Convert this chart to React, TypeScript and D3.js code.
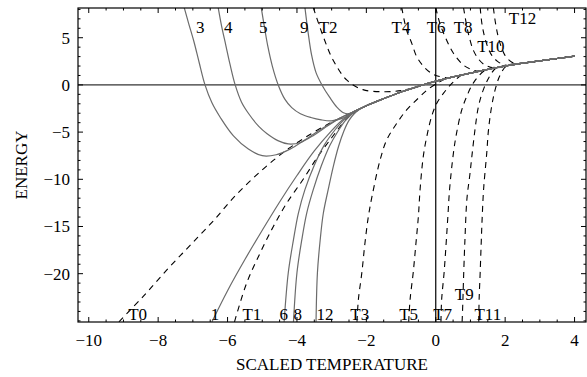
import React from "react";
import * as d3 from "d3";

type Pt = [number, number];

// common branch that all curves run into at high temperature
const envelope: Pt[] = [
  [-2.4, -2.9], [-2.2, -2.55], [-2, -2.2], [-1.5, -1.45], [-1, -0.75], [-0.5, -0.15], [0, 0.4],
  [0.5, 0.85], [1, 1.25], [1.5, 1.65], [2, 2.0], [2.5, 2.3], [3, 2.55], [3.5, 2.8], [4, 3.05],
];

// solid (grey) curves
const c1: Pt[] = [[-6.45, -25.1], [-6.0, -21.8], [-5.5, -18.5], [-5.0, -15.4], [-4.5, -12.4], [-4.0, -9.6], [-3.5, -7.0], [-3.0, -4.85], [-2.7, -3.75], [-2.45, -3.05], [-2.2, -2.55]];
const c3: Pt[] = [[-7.25, 8.2], [-7.12, 6.5], [-6.97, 4.6], [-6.82, 2.4], [-6.65, 0], [-6.45, -1.9], [-6.2, -3.5], [-5.83, -5.4], [-5.4, -6.8], [-5.0, -7.5], [-4.6, -7.4], [-4.2, -6.8], [-3.8, -5.9], [-3.4, -4.9], [-3.0, -4.0], [-2.7, -3.4], [-2.4, -2.9]];
const c4: Pt[] = [[-6.27, 8.2], [-6.17, 6.2], [-6.05, 4.2], [-5.93, 2.2], [-5.78, 0], [-5.6, -1.8], [-5.4, -3.0], [-5.1, -4.4], [-4.87, -5.15], [-4.55, -5.9], [-4.25, -6.25], [-3.9, -6.1], [-3.5, -5.3], [-3.1, -4.3], [-2.75, -3.5], [-2.4, -2.9]];
const c5: Pt[] = [[-5.03, 8.2], [-4.94, 6.2], [-4.84, 4.1], [-4.71, 2.0], [-4.54, 0], [-4.35, -1.5], [-4.15, -2.4], [-3.9, -3.05], [-3.6, -3.45], [-3.3, -3.7], [-3.0, -3.8], [-2.7, -3.55], [-2.55, -3.3], [-2.4, -2.9]];
const c6: Pt[] = [[-4.37, -25.1], [-4.25, -19.9], [-4.1, -16.4], [-3.96, -13.6], [-3.77, -11.1], [-3.5, -8.5], [-3.2, -6.3], [-2.9, -4.75], [-2.65, -3.7], [-2.45, -3.1], [-2.2, -2.55]];
const c8: Pt[] = [[-4.1, -25.1], [-4.0, -19.9], [-3.86, -16.4], [-3.72, -13.6], [-3.53, -11.1], [-3.3, -8.6], [-3.05, -6.4], [-2.8, -4.8], [-2.6, -3.75], [-2.42, -3.1], [-2.2, -2.55]];
const c9: Pt[] = [[-3.77, 8.2], [-3.68, 5.6], [-3.58, 3.2], [-3.45, 1.3], [-3.28, 0], [-3.05, -1.35], [-2.85, -2.35], [-2.66, -2.95], [-2.5, -3.05], [-2.4, -2.9]];
const c12: Pt[] = [[-3.45, -25.1], [-3.41, -19.9], [-3.33, -16.4], [-3.24, -13.6], [-3.1, -11.1], [-2.95, -8.6], [-2.8, -6.5], [-2.65, -4.9], [-2.5, -3.75], [-2.35, -3.05], [-2.2, -2.6]];

// dashed (black) curves
const t0: Pt[] = [[-9.13, -25.1], [-8.43, -22.4], [-7.75, -19.6], [-7.08, -17.0], [-6.41, -14.4], [-5.74, -11.6], [-5.0, -9.0], [-4.3, -6.9], [-3.6, -5.2], [-3.0, -3.95], [-2.4, -2.9]];
const t1: Pt[] = [[-5.8, -25.1], [-5.45, -21.0], [-5.06, -17.8], [-4.68, -15.0], [-4.29, -12.5], [-3.82, -10.0], [-3.4, -7.6], [-3.0, -5.6], [-2.7, -4.15], [-2.45, -3.2], [-2.2, -2.6]];
const t2: Pt[] = [[-3.53, 8.2], [-3.24, 5.1], [-2.96, 2.65], [-2.56, 0.5], [-2.1, -0.5], [-1.5, -0.72], [-1.0, -0.6], [-0.6, -0.27]];
const t3: Pt[] = [[-2.27, -25.1], [-2.23, -22.75], [-2.13, -19.9], [-2.04, -16.75], [-1.94, -13.9], [-1.82, -11.5], [-1.6, -7.9], [-1.41, -5.8], [-1.12, -4.05], [-0.84, -2.65], [-0.5, -1.4], [-0.2, -0.4], [0.1, 0.3], [0.3, 0.67]];
const t4: Pt[] = [[-0.98, 8.2], [-0.84, 5.8], [-0.7, 4.5], [-0.55, 3.0], [-0.36, 2.0], [-0.15, 1.3], [0.05, 0.95], [0.4, 0.76]];
const t5: Pt[] = [[-0.78, -25.1], [-0.74, -22.75], [-0.65, -19.9], [-0.57, -16.75], [-0.5, -13.9], [-0.45, -11.0], [-0.36, -7.6], [-0.26, -5.5], [-0.12, -3.35], [0.03, -1.94], [0.22, -0.9], [0.45, 0.1], [0.75, 1.05]];
const t6: Pt[] = [[0.0, 8.2], [0.12, 6.5], [0.27, 5.1], [0.51, 3.35], [0.8, 2.1], [1.05, 1.6], [1.25, 1.45]];
const t7: Pt[] = [[0.15, -25.1], [0.17, -22.75], [0.24, -19.9], [0.3, -16.75], [0.35, -13.9], [0.4, -11.0], [0.51, -7.2], [0.6, -5.1], [0.75, -2.65], [0.89, -1.24], [1.1, 0.3], [1.45, 1.61]];
const t8: Pt[] = [[0.8, 8.2], [0.88, 6.5], [0.97, 5.0], [1.08, 3.7], [1.22, 2.8], [1.4, 2.15], [1.7, 1.79]];
const t9: Pt[] = [[0.76, -25.1], [0.78, -23.1], [0.8, -20.6], [0.84, -16.5], [0.9, -12.0], [0.98, -9.6], [1.04, -7.6], [1.13, -4.76], [1.23, -2.3], [1.37, -0.53], [1.55, 0.9], [1.75, 1.83]];
const t10: Pt[] = [[1.28, 8.2], [1.33, 6.5], [1.4, 5.2], [1.5, 4.0], [1.62, 3.1], [1.78, 2.5], [1.95, 2.15], [2.1, 2.06]];
const t11: Pt[] = [[1.24, -25.1], [1.25, -22.75], [1.28, -19.9], [1.31, -16.75], [1.34, -13.9], [1.38, -11.0], [1.47, -7.2], [1.52, -4.76], [1.61, -2.3], [1.71, -0.53], [1.85, 1.0], [2.05, 2.03]];
const t12: Pt[] = [[1.66, 8.2], [1.72, 6.6], [1.8, 5.1], [1.9, 3.9], [2.0, 3.1], [2.12, 2.6], [2.25, 2.3], [2.4, 2.24]];

const solidCurves = [c1, c3, c4, c5, c6, c8, c9, c12];
const dashedCurves = [t0, t1, t2, t3, t4, t5, t6, t7, t8, t9, t10, t11, t12];

// curve labels: text, x, y (data units, baseline)
const curveLabels: [string, number, number][] = [
  ["3", -6.79, 5.45], ["4", -5.98, 5.45], ["5", -4.97, 5.45], ["9", -3.79, 5.45],
  ["T2", -3.1, 5.45], ["T4", -1.0, 5.45], ["T6", 0.01, 5.45], ["T8", 0.79, 5.45],
  ["T10", 1.59, 3.49], ["T12", 2.5, 6.5],
  ["T0", -8.59, -24.87], ["1", -6.36, -24.87], ["T1", -5.3, -24.87], ["6", -4.38, -24.87],
  ["8", -3.98, -24.87], ["12", -3.19, -24.87], ["T3", -2.19, -24.87], ["T5", -0.78, -24.87],
  ["T7", 0.2, -24.87], ["T9", 0.82, -22.75], ["T11", 1.5, -24.87],
];

const xTicks = [-10, -8, -6, -4, -2, 0, 2, 4];
const yTicks = [-20, -15, -10, -5, 0, 5];

const W = 587;
const H = 377;
const L = 78, R = 586, T = 8, B = 322;

const fmt = (v: number) => (v < 0 ? "\u2212" + Math.abs(v) : String(v));

const withEnvelope = (pts: Pt[]): Pt[] => {
  const last = pts[pts.length - 1][0];
  return pts.concat(envelope.filter((p) => p[0] > last + 0.05));
};

const App = () => {
  const x = d3.scaleLinear().domain([-10.31, 4.33]).range([L, R]);
  const y = d3.scaleLinear().domain([-25.12, 8.15]).range([B, T]);
  const line = d3
    .line<Pt>()
    .x((d) => x(d[0]))
    .y((d) => y(d[1]))
    .curve(d3.curveCatmullRom.alpha(0.5));

  const xMinor = d3.range(-10, 4.33, 0.5).filter((v) => !xTicks.includes(v));
  const yMinor = d3.range(-25, 8.2, 1).filter((v) => !yTicks.includes(v));
  const font = "'Liberation Serif', 'Times New Roman', serif";

  return (
    <svg
      width={W}
      height={H}
      style={{ position: "absolute", left: 0, top: 0, background: "#fff" }}
      fontFamily={font}
      fontSize={17}
    >
      <defs>
        <clipPath id="plot">
          <rect x={L} y={T} width={R - L} height={B - T} />
        </clipPath>
      </defs>

      <g clipPath="url(#plot)" fill="none">
        <line x1={L} x2={R} y1={y(0)} y2={y(0)} stroke="#000" strokeWidth={1} />
        <line x1={x(0)} x2={x(0)} y1={T} y2={B} stroke="#000" strokeWidth={1.2} />
        {dashedCurves.map((c, i) => (
          <path key={"d" + i} d={line(withEnvelope(c)) || ""} stroke="#000" strokeWidth={1.1} strokeDasharray="6,5" />
        ))}
        {solidCurves.map((c, i) => (
          <path key={"s" + i} d={line(withEnvelope(c)) || ""} stroke="#6b6b6b" strokeWidth={1.2} />
        ))}
      </g>

      {/* frame and ticks */}
      <rect x={L} y={T} width={R - L} height={B - T} fill="none" stroke="#000" strokeWidth={1.2} />
      <g stroke="#000" strokeWidth={1}>
        {xTicks.map((v) => (
          <g key={"xt" + v}>
            <line x1={x(v)} x2={x(v)} y1={B} y2={B - 5} />
            <line x1={x(v)} x2={x(v)} y1={T} y2={T + 5} />
          </g>
        ))}
        {xMinor.map((v) => (
          <g key={"xm" + v}>
            <line x1={x(v)} x2={x(v)} y1={B} y2={B - 2.5} />
            <line x1={x(v)} x2={x(v)} y1={T} y2={T + 2.5} />
          </g>
        ))}
        {yTicks.map((v) => (
          <g key={"yt" + v}>
            <line x1={L} x2={L + 5} y1={y(v)} y2={y(v)} />
            <line x1={R} x2={R - 5} y1={y(v)} y2={y(v)} />
          </g>
        ))}
        {yMinor.map((v) => (
          <g key={"ym" + v}>
            <line x1={L} x2={L + 2.5} y1={y(v)} y2={y(v)} />
            <line x1={R} x2={R - 2.5} y1={y(v)} y2={y(v)} />
          </g>
        ))}
      </g>

      {xTicks.map((v) => (
        <text key={"xl" + v} x={x(v)} y={B + 24} textAnchor="middle">
          {fmt(v)}
        </text>
      ))}
      {yTicks.map((v) => (
        <text key={"yl" + v} x={L - 8} y={y(v) + 6} textAnchor="end">
          {fmt(v)}
        </text>
      ))}

      {curveLabels.map(([t, lx, ly]) => (
        <text key={"c" + t} x={x(lx)} y={y(ly)} textAnchor="middle">
          {t}
        </text>
      ))}

      <text x={(L + R) / 2} y={370} textAnchor="middle">
        SCALED TEMPERATURE
      </text>
      <text transform={`translate(27,${(T + B) / 2}) rotate(-90)`} textAnchor="middle">
        ENERGY
      </text>
    </svg>
  );
};

export default App;
